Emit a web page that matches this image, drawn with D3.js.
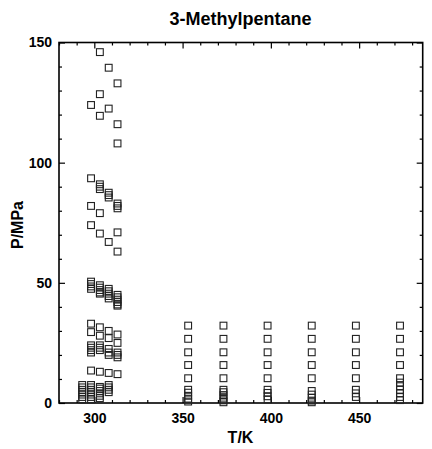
<!DOCTYPE html>
<html>
<head>
<meta charset="utf-8">
<script src="https://cdn.jsdelivr.net/npm/d3@7"></script>
<style>
  html, body { margin: 0; padding: 0; background: #fff; }
  svg { display: block; }
  text { font-family: "Liberation Sans", Arial, Helvetica, sans-serif; font-weight: bold; fill: #000; }
</style>
</head>
<body>
<div id="chart"></div>
<script>
// Isotherms of 3-methylpentane: temperature (K) and measured pressures (MPa)
const temperaturesK = [293.15, 298.15, 303.15, 308.15, 313.15,
                       353.15, 373.15, 398.15, 423.15, 448.15, 473.15];

const pressures293 = [1.5, 2.5, 3.5, 4.5, 5.5, 6.5, 7.5];
const pressures298 = [124, 93.5, 82, 74, 50.5, 49.5, 48.5, 47.5,
                      33, 29.5, 24, 23, 22, 21, 13.5,
                      1.5, 2.5, 3.5, 4.5, 5.5, 6.5, 7.5];
const pressures303 = [146, 128.5, 119.5, 91, 90, 89, 79, 70.5,
                      49, 48, 47, 46, 45.5,
                      31.5, 28, 24, 23, 22, 13,
                      2, 3, 4, 5, 6, 6.7];
const pressures308 = [139.5, 122.5, 87.5, 86.5, 85.5, 67,
                      47.5, 46.5, 45.5, 44.5, 43.5,
                      30, 27, 22.5, 21, 20, 12.5,
                      4.5, 5.5, 6.5, 7.5];
const pressures313 = [133, 116, 108, 83, 82, 81, 71, 63,
                      45, 44, 43, 42, 41, 40.5,
                      28.5, 25, 21, 20, 19, 12];
const pressures353 = [32.2, 26.7, 21.1, 15.8, 10.3, 5.5, 4.3, 3, 1.8, 0.6];
const pressures373 = [32.2, 26.7, 21.1, 15.8, 10.3, 5.5, 4.5, 3.3, 2.2, 1.1, 0.3];
const pressures398 = [32.2, 26.7, 21.1, 15.8, 10.3, 5.5, 4.2, 2.8, 1.5];
const pressures423 = [32.2, 26.7, 21.1, 15.8, 10.3, 5, 3.5, 2.2, 1, 0.3];
const pressures448 = [32.2, 26.7, 21.1, 15.8, 10.3, 5.5, 4, 2.5];
const pressures473 = [32.2, 26.7, 21.1, 15.8, 10.3, 8.5, 7, 5.5, 4, 2.5, 1.2];

const pressureSets = [pressures293, pressures298, pressures303, pressures308, pressures313,
                      pressures353, pressures373, pressures398, pressures423, pressures448, pressures473];

const xMajorTicks = [300, 350, 400, 450];
const yMajorTicks = [0, 50, 100, 150];

const points = [];
temperaturesK.forEach((t, i) => pressureSets[i].forEach(p => points.push({ t, p })));

const width = 432, height = 449;
const margin = { left: 59, right: 9.3, top: 42.5, bottom: 46 };

const svg = d3.select("#chart").append("svg")
  .attr("width", width).attr("height", height);

const x = d3.scaleLinear().domain([280, 486]).range([margin.left, width - margin.right]);
const y = d3.scaleLinear().domain([0, 150]).range([height - margin.bottom, margin.top]);

const xMinor = d3.range(280, 490, 10).filter(v => !xMajorTicks.includes(v));
const yMinor = d3.range(10, 150, 10).filter(v => !yMajorTicks.includes(v));

function styleAxis(g) {
  g.select(".domain").remove();
  g.selectAll(".tick line").attr("stroke", "#000").attr("stroke-width", 1.2);
}

// bottom axis: labelled major ticks, inward
svg.append("g").attr("transform", `translate(0,${y(0)})`)
  .call(d3.axisBottom(x).tickValues(xMajorTicks).tickSizeInner(-6).tickSizeOuter(0).tickPadding(10).tickFormat(d3.format("d")))
  .call(styleAxis)
  .call(g => g.selectAll("text").attr("font-size", 14));
svg.append("g").attr("transform", `translate(0,${y(0)})`)
  .call(d3.axisBottom(x).tickValues(xMinor).tickSizeInner(-3).tickSizeOuter(0).tickFormat(""))
  .call(styleAxis);

// top axis: ticks only
svg.append("g").attr("transform", `translate(0,${y(150)})`)
  .call(d3.axisTop(x).tickValues(xMajorTicks).tickSizeInner(-6).tickSizeOuter(0).tickFormat(""))
  .call(styleAxis);
svg.append("g").attr("transform", `translate(0,${y(150)})`)
  .call(d3.axisTop(x).tickValues(xMinor).tickSizeInner(-3).tickSizeOuter(0).tickFormat(""))
  .call(styleAxis);

// left axis
svg.append("g").attr("transform", `translate(${x.range()[0]},0)`)
  .call(d3.axisLeft(y).tickValues(yMajorTicks).tickSizeInner(-6).tickSizeOuter(0).tickPadding(7).tickFormat(d3.format("d")))
  .call(styleAxis)
  .call(g => g.selectAll("text").attr("font-size", 14));
svg.append("g").attr("transform", `translate(${x.range()[0]},0)`)
  .call(d3.axisLeft(y).tickValues(yMinor).tickSizeInner(-3).tickSizeOuter(0).tickFormat(""))
  .call(styleAxis);

// right axis: ticks only
svg.append("g").attr("transform", `translate(${x.range()[1]},0)`)
  .call(d3.axisRight(y).tickValues(yMajorTicks).tickSizeInner(-6).tickSizeOuter(0).tickFormat(""))
  .call(styleAxis);
svg.append("g").attr("transform", `translate(${x.range()[1]},0)`)
  .call(d3.axisRight(y).tickValues(yMinor).tickSizeInner(-3).tickSizeOuter(0).tickFormat(""))
  .call(styleAxis);

// plot frame
svg.append("rect")
  .attr("x", x.range()[0]).attr("y", y(150))
  .attr("width", x.range()[1] - x.range()[0]).attr("height", y(0) - y(150))
  .attr("fill", "none").attr("stroke", "#000").attr("stroke-width", 1.6);

// open square markers
const s = 6.8;
svg.append("g").selectAll("rect.pt").data(points).join("rect")
  .attr("class", "pt")
  .attr("x", d => x(d.t) - s / 2).attr("y", d => y(d.p) - s / 2)
  .attr("width", s).attr("height", s)
  .attr("fill", "none").attr("stroke", "#222").attr("stroke-width", 1.1);

// titles
svg.append("text").attr("x", 240.5).attr("y", 25).attr("text-anchor", "middle")
  .attr("font-size", 18).text("3-Methylpentane");
svg.append("text").attr("x", 240.5).attr("y", 443).attr("text-anchor", "middle")
  .attr("font-size", 16).text("T/K");
svg.append("text").attr("transform", "translate(23,225) rotate(-90)").attr("text-anchor", "middle")
  .attr("font-size", 16).text("P/MPa");
</script>
</body>
</html>
